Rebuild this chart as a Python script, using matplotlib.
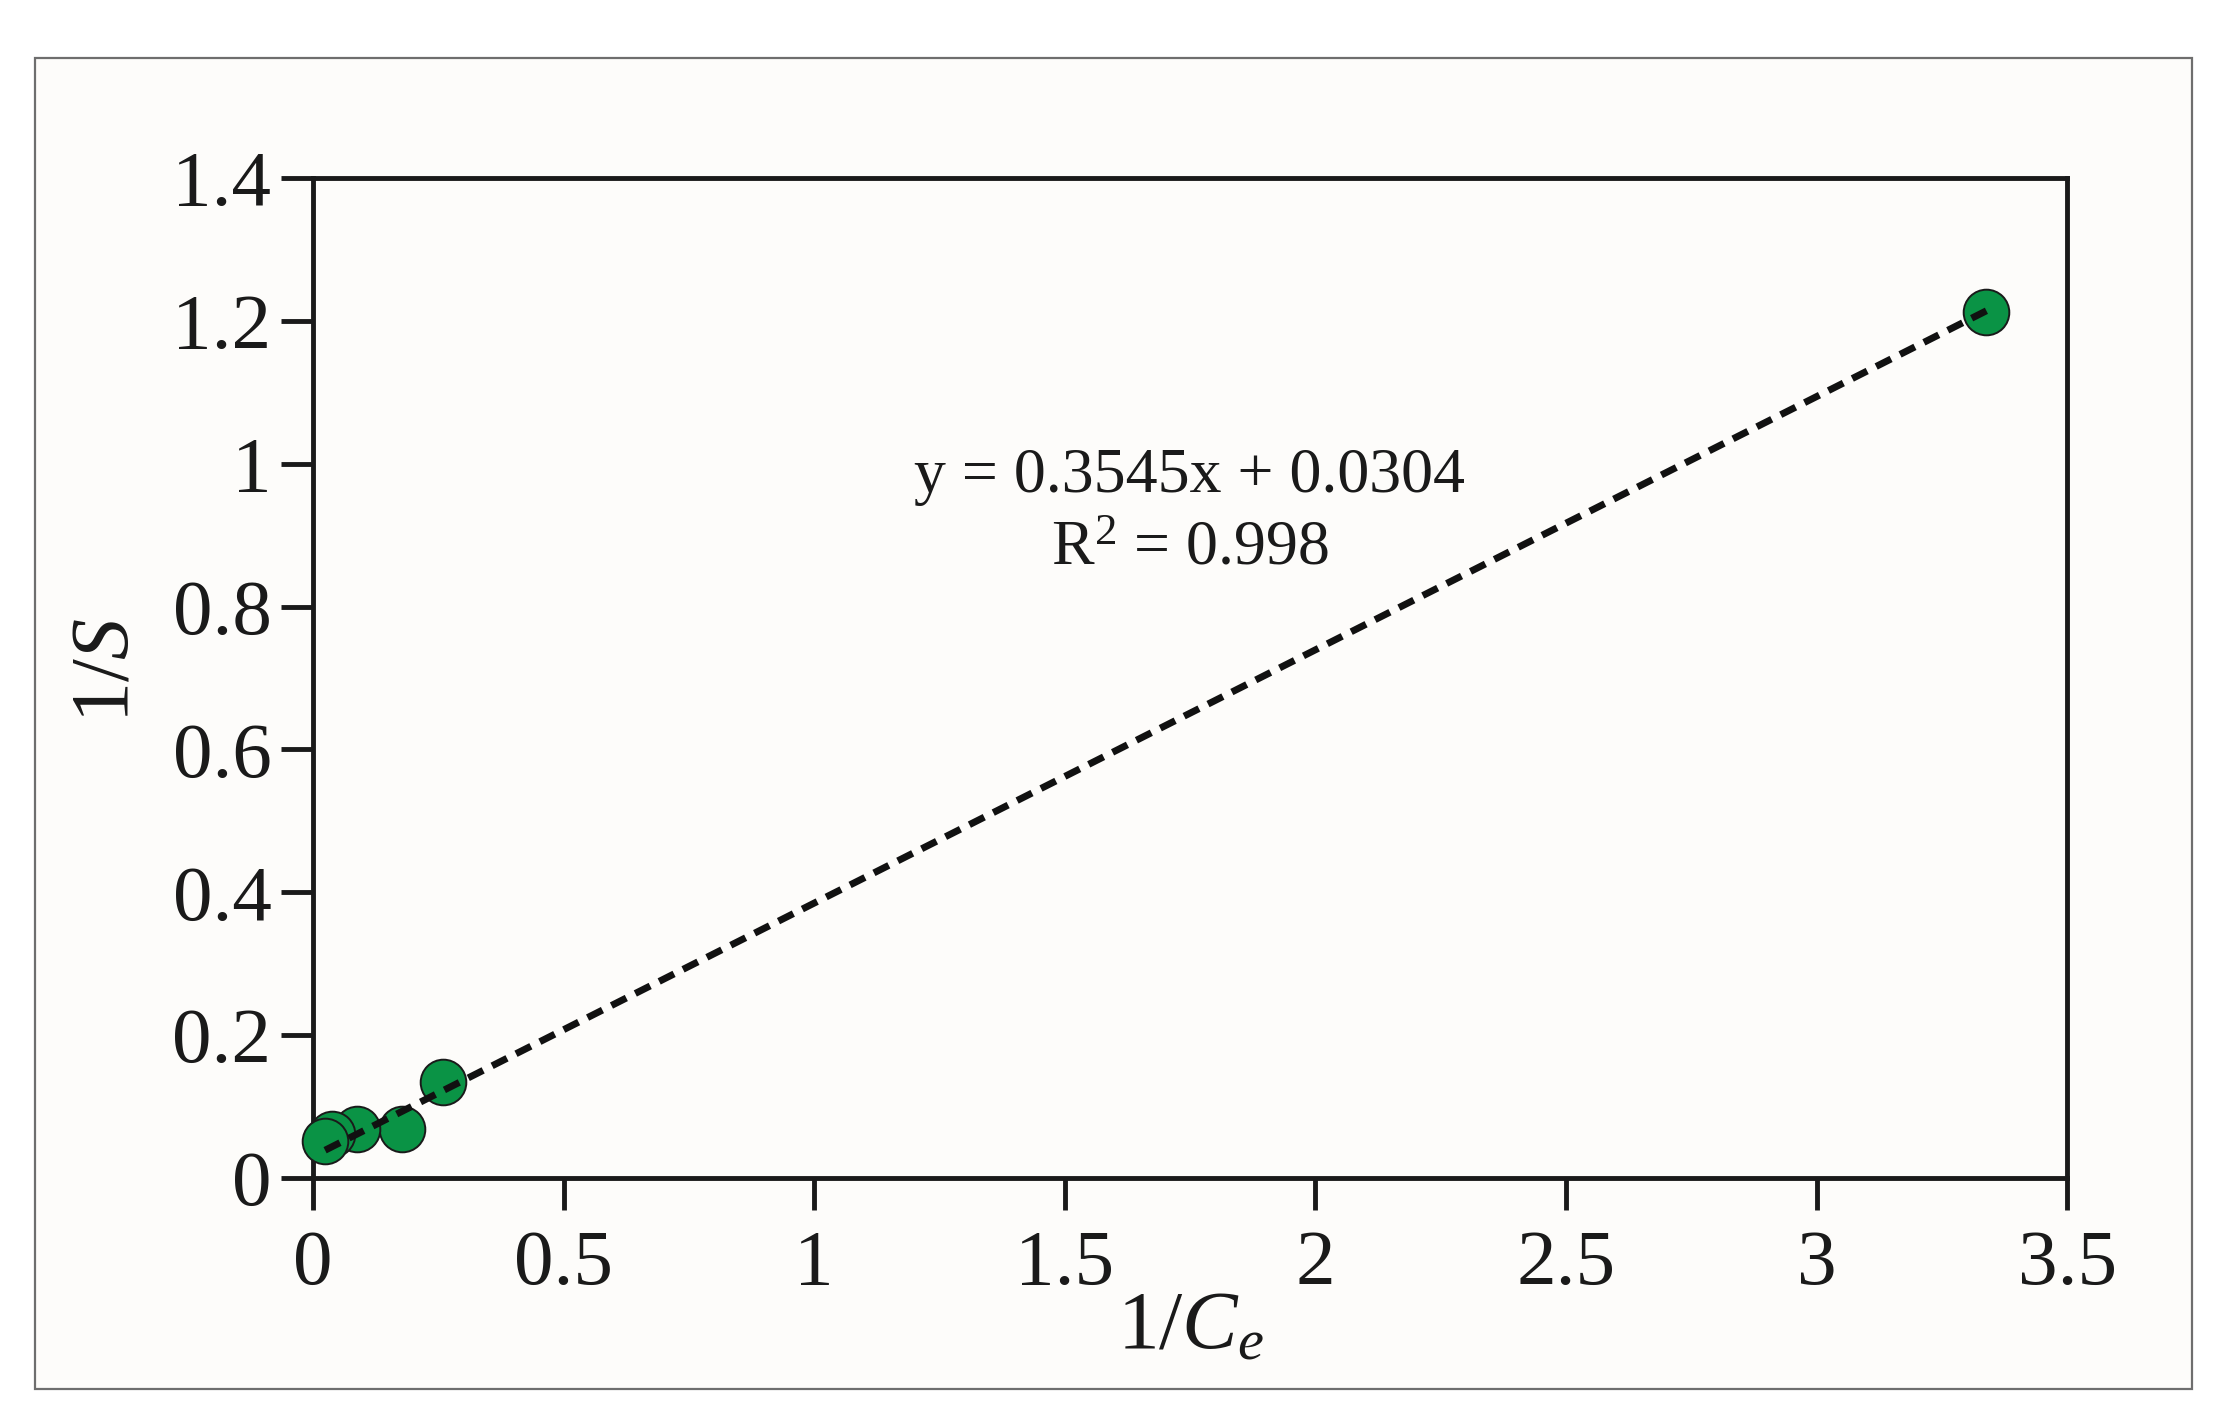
import matplotlib
matplotlib.use("Agg")
import matplotlib.pyplot as plt
import numpy as np
from matplotlib.patches import Rectangle

# Data
inv_ce = [0.024, 0.037, 0.087, 0.177, 0.260, 3.339]
inv_s = [0.052, 0.062, 0.069, 0.069, 0.134, 1.213]
slope = 0.3545
intercept = 0.0304
x_ticks = [0, 0.5, 1, 1.5, 2, 2.5, 3, 3.5]
x_tick_labels = ["0", "0.5", "1", "1.5", "2", "2.5", "3", "3.5"]
y_ticks = [0, 0.2, 0.4, 0.6, 0.8, 1.0, 1.2, 1.4]
y_tick_labels = ["0", "0.2", "0.4", "0.6", "0.8", "1", "1.2", "1.4"]

plt.rcParams["font.family"] = ["Liberation Serif", "DejaVu Serif"]
plt.rcParams["mathtext.fontset"] = "custom"
plt.rcParams["mathtext.rm"] = "Liberation Serif"
plt.rcParams["mathtext.it"] = "Liberation Serif:italic"

txt = "#1a1a1a"
fig = plt.figure(figsize=(22.33, 14.26), dpi=100)
fig.patch.set_facecolor("white")

# outer frame
fig.patches.append(Rectangle((0.0157, 0.026), 0.9659, 0.9333, transform=fig.transFigure,
                             facecolor="#fdfcfa", edgecolor="#6e6e6e", linewidth=1.6, zorder=-10))

ax = fig.add_axes([0.1402, 0.1739, 0.7855, 0.7013])
ax.set_zorder(5)
ax.set_facecolor("#fdfcfa")
ax.set_xlim(0, 3.5)
ax.set_ylim(0, 1.4)

for sp in ax.spines.values():
    sp.set_linewidth(3.5)
    sp.set_color(txt)

ax.set_xticks(x_ticks)
ax.set_xticklabels(x_tick_labels)
ax.set_yticks(y_ticks)
ax.set_yticklabels(y_tick_labels)
ax.tick_params(axis="both", direction="out", length=23, width=3.5, color=txt,
               labelsize=57, labelcolor=txt)
ax.tick_params(axis="x", pad=14)
ax.tick_params(axis="y", pad=7)

xs = np.array(inv_ce)
ys = np.array(inv_s)
ax.scatter(xs[::-1], ys[::-1], s=1080, color="#0a9345", edgecolors="#1a1a1a",
           linewidths=1.4, zorder=3, clip_on=False)

xl = np.array([xs.min(), xs.max()])
ax.plot(xl, slope * xl + intercept, color="#111111", linewidth=5,
        linestyle=(0, (2.4, 1.45)), zorder=4)

ax.text(1.749, 0.961, "y = 0.3545x + 0.0304", ha="center", va="baseline",
        fontsize=46, color=txt)
ax.text(1.749, 0.859, "R$^2$ = 0.998", ha="center", va="baseline",
        fontsize=46, color=txt)

ax.set_xlabel("1/$C_e$", fontsize=60, color=txt)
ax.xaxis.label.set_va("baseline")
ax.xaxis.set_label_coords(0.5, -0.17)

ax.set_ylabel("1/$S$", fontsize=59, color=txt)
ax.yaxis.label.set_va("center")
ax.yaxis.set_label_coords(-0.117, 0.508)

fig.savefig("out.png", dpi=100, facecolor=fig.get_facecolor())
